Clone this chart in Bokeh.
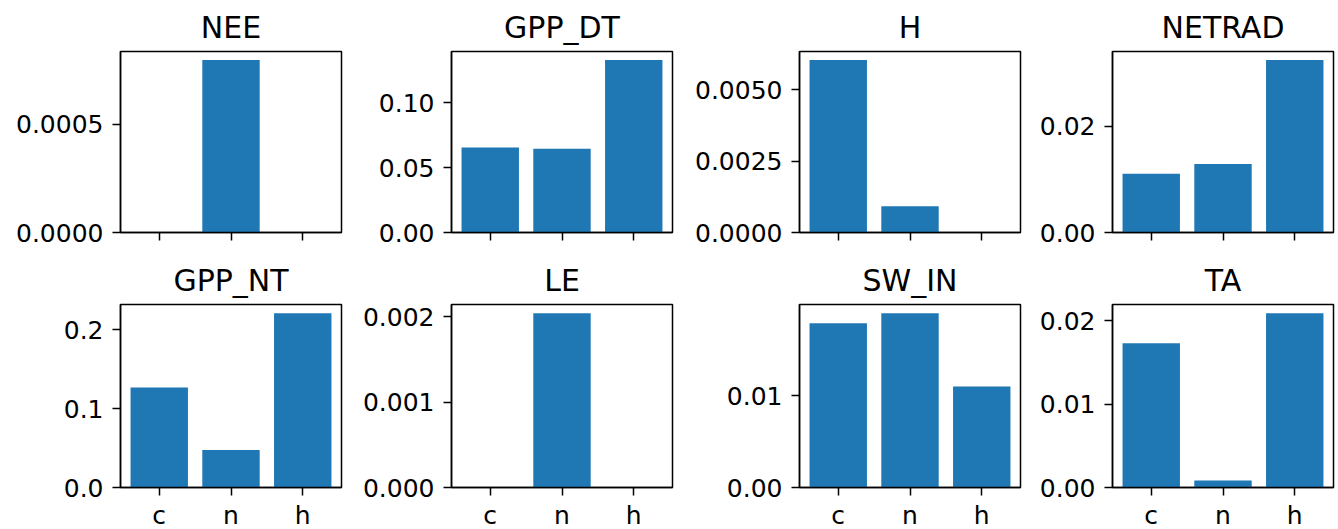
from bokeh.plotting import figure
from bokeh.layouts import row, column
from bokeh.models import Range1d, FixedTicker, PrintfTickFormatter
from bokeh.embed import file_html
from bokeh.resources import INLINE

# ---------------- data ----------------
categories = ["c", "n", "h"]
titles = ["NEE", "GPP_DT", "H", "NETRAD", "GPP_NT", "LE", "SW_IN", "TA"]

nee = [0.0, 0.000795, 0.0]
gpp_dt = [0.0654, 0.0646, 0.1328]
h_vals = [0.00603, 0.00092, 0.0]
netrad = [0.0111, 0.0129, 0.0325]
gpp_nt = [0.1267, 0.0475, 0.2207]
le = [0.0, 0.00204, 0.0]
sw_in = [0.0179, 0.0190, 0.0110]
ta = [0.0173, 0.00085, 0.0209]

ticks_nee = [0.0, 0.0005]
ticks_gpp_dt = [0.0, 0.05, 0.10]
ticks_h = [0.0, 0.0025, 0.0050]
ticks_netrad = [0.0, 0.02]
ticks_gpp_nt = [0.0, 0.1, 0.2]
ticks_le = [0.0, 0.001, 0.002]
ticks_sw_in = [0.0, 0.01]
ticks_ta = [0.0, 0.01, 0.02]

tick_formats = ["%.4f", "%.2f", "%.4f", "%.2f", "%.1f", "%.3f", "%.2f", "%.2f"]

series = [nee, gpp_dt, h_vals, netrad, gpp_nt, le, sw_in, ta]
ticks = [ticks_nee, ticks_gpp_dt, ticks_h, ticks_netrad,
         ticks_gpp_nt, ticks_le, ticks_sw_in, ticks_ta]

# ---------------- style / layout ----------------
BAR = "#1f77b4"
FONT = "DejaVu Sans"
FW = 221
col_borders = [(120, 2), (108, 2), (125, 2), (90, 5)]
row_specs = [  # (top border, frame height, bottom border, show x labels)
    (51, 181, 20, False),
    (52, 183, 42, True),
]

x_pos = list(range(len(categories)))


def make_panel(i):
    r, c = divmod(i, 4)
    top, fh, bottom, show_x = row_specs[r]
    left, right = col_borders[c]
    vals = series[i]
    p = figure(
        frame_width=FW, frame_height=fh,
        min_border_left=left, min_border_right=right,
        min_border_top=top, min_border_bottom=bottom,
        x_range=Range1d(-0.54, len(categories) - 1 + 0.54),
        y_range=Range1d(0, max(vals) * 1.05),
        output_backend="svg", toolbar_location=None,
        title=titles[i],
    )
    p.vbar(x=x_pos, top=vals, width=0.8, bottom=0, fill_color=BAR, line_color=None)

    p.title.text_font = FONT
    p.title.text_font_size = "30px"
    p.title.text_font_style = "normal"
    p.title.align = "center"
    p.title.text_color = "black"
    p.title.standoff = 13

    p.xgrid.visible = False
    p.ygrid.visible = False
    p.outline_line_color = "black"
    p.outline_line_width = 1.5
    p.background_fill_color = "white"
    p.border_fill_color = "white"

    for ax in (p.xaxis[0], p.yaxis[0]):
        ax.axis_line_color = "black"
        ax.axis_line_width = 1.5
        ax.major_tick_line_color = "black"
        ax.major_tick_line_width = 1.5
        ax.major_tick_in = 0
        ax.major_tick_out = 8
        ax.minor_tick_line_color = None
        ax.major_label_text_font = FONT
        ax.major_label_text_font_size = "25px"
        ax.major_label_text_color = "black"

    p.xaxis.ticker = FixedTicker(ticks=x_pos)
    if show_x:
        p.xaxis.major_label_overrides = {k: categories[k] for k in x_pos}
        p.xaxis.major_label_standoff = 5
    else:
        p.xaxis.major_label_overrides = {k: "" for k in x_pos}
        p.xaxis.major_label_standoff = 0
    p.yaxis.ticker = FixedTicker(ticks=ticks[i])
    p.yaxis.formatter = PrintfTickFormatter(format=tick_formats[i])
    p.yaxis.major_label_standoff = 9
    return p


panels = [make_panel(i) for i in range(8)]
layout = column(row(*panels[:4], spacing=0), row(*panels[4:], spacing=0), spacing=0)

open("out.html", "w").write(file_html(layout, INLINE))
